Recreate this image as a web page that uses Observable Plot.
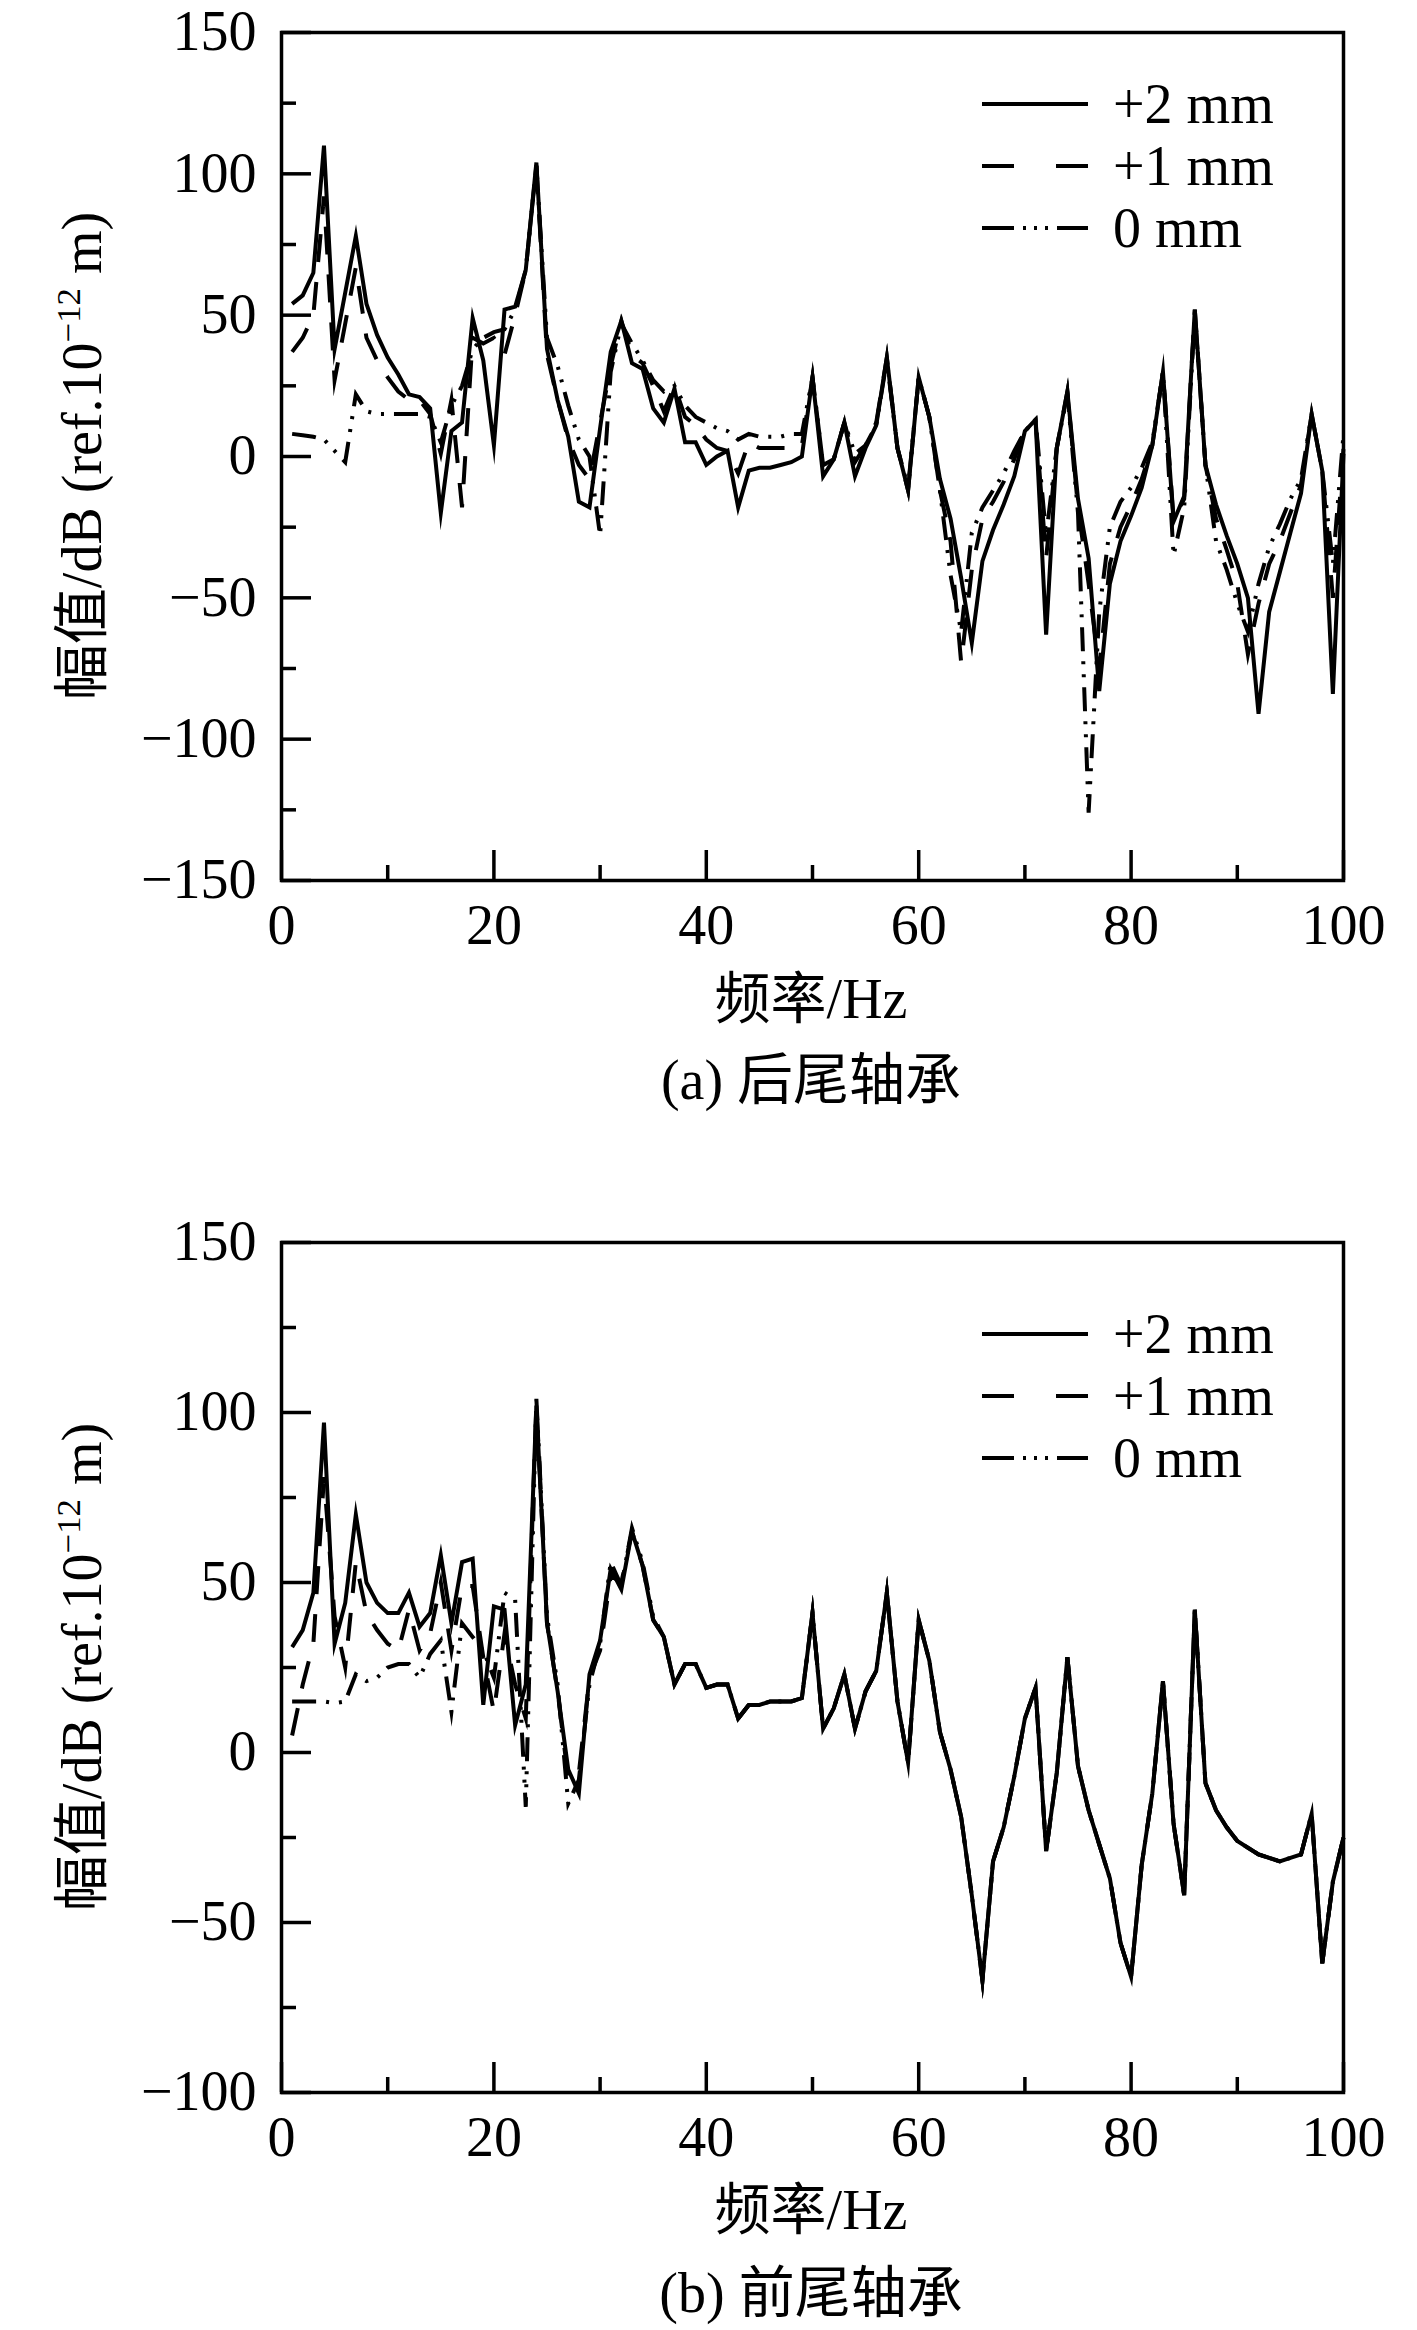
<!DOCTYPE html>
<html><head><meta charset="utf-8">
<script src="https://cdn.jsdelivr.net/npm/d3@7"></script>
<script src="https://cdn.jsdelivr.net/npm/@observablehq/plot@0.6"></script>
<style>
body{margin:0;background:#fff;}
#wrap{position:relative;width:1417px;height:2330px;background:#fff;font-family:"Liberation Serif","Times New Roman","Noto Sans CJK SC",serif;color:#000;overflow:hidden;}
.t{position:absolute;font-size:56px;white-space:nowrap;line-height:1;transform:translate(-50%,-50%);}
.yl{transform:translate(-50%,-50%) rotate(-90deg);}
.lg{position:absolute;font-size:56px;white-space:nowrap;line-height:1;transform:translateY(-50%);}
.pl{position:absolute;left:0;}
sup{font-size:0.62em;vertical-align:0.6em;line-height:0;}
</style></head><body><div id="wrap"></div>
<script>
// frequency (Hz)
const freq = [1,2,3,4,5,6,7,8,9,10,11,12,13,14,15,16,17,18,19,20,21,22,23,24,25,26,27,28,29,30,31,32,33,34,35,36,37,38,39,40,41,42,43,44,45,46,47,48,49,50,51,52,53,54,55,56,57,58,59,60,61,62,63,64,65,66,67,68,69,70,71,72,73,74,75,76,77,78,79,80,81,82,83,84,85,86,87,88,89,90,91,92,93,94,95,96,97,98,99,100];
const seriesNames = ["+2 mm", "+1 mm", "0 mm"];

// (a) 后尾轴承
const a_p2 = [54,57,65,110,38,58,78,54,43,35,29,22,21,17,-20,9,12,49,34,4,52,53,66,104,38,20,7,-16,-18,10,37,48,33,31,17,12,24,5,5,-3,0,2,-18,-5,-4,-4,-3,-2,0,28,-7,-1,12,-7,3,11,35,3,-12,28,14,-8,-22,-43,-66,-37,-26,-17,-7,9,13,-63,3,23,-15,-36,-83,-45,-30,-21,-11,4,30,-23,-14,52,-3,-17,-28,-38,-50,-91,-55,-41,-27,-13,15,-5,-84,1];
const a_p1 = [37,42,50,92,27,47,67,42,34,28,23,20,20,15,1,20,-18,42,40,42,36,50,66,103,36,20,6,-3,-8,12,32,48,36,33,25,16,25,14,11,6,3,2,-6,5,3,3,3,3,4,28,-3,-1,12,-2,4,12,35,3,-12,28,14,-12,-30,-73,-40,-22,-16,-9,-1,10,13,-36,3,23,-18,-45,-75,-38,-25,-17,-8,4,30,-22,-15,52,-3,-22,-33,-45,-70,-52,-38,-30,-20,-10,15,-5,-50,3];
const a_0 = [8,7.5,7,6,2,-2,22,16,15,15,15,15,15,14,5,18,25,38,42,44,45,52,66,103,42,32,18,6,0,-28,30,47,40,34,27,23,25,18,14,12,10,9,6,8,7,7,7,8,8,28,-3,-1,12,1,4,11,34,3,-11,28,14,-12,-42,-62,-27,-18,-12,-6,2,9,13,-28,3,22,-20,-126,-55,-25,-16,-11,-4,5,30,-35,-18,51,-3,-30,-40,-52,-62,-45,-32,-24,-15,-8,15,-5,-38,8];

// (b) 前尾轴承
const b_p2 = [31,36,47,97,32,44,70,50,44,41,41,47,37,41,58,38,56,57,14,43,42,8,20,102,38,18,-5,-12,23,33,54,48,65,55,39,34,20,26,26,19,20,20,10,14,14,15,15,15,16,41,7,13,23,7,18,24,47,15,-3,39,27,6,-5,-19,-42,-67,-32,-22,-7,10,19,-29,-6,28,-4,-17,-27,-37,-56,-66,-33,-12,21,-21,-42,42,-9,-17,-22,-26,-28,-30,-31,-32,-31,-30,-18,-62,-38,-25];
const b_p1 = [5,20,32,81,40,25,56,41,36,32,30,42,30,35,50,30,49,49,28,12,35,20,10,103,38,18,-8,-6,22,30,52,50,65,55,39,34,20,26,26,19,20,20,10,14,14,15,15,15,16,41,7,13,23,7,18,24,47,15,-3,39,27,6,-5,-19,-42,-67,-32,-22,-7,10,19,-29,-6,28,-4,-17,-27,-37,-56,-66,-33,-12,21,-21,-42,42,-9,-17,-22,-26,-28,-30,-31,-32,-31,-30,-18,-62,-38,-25];
const b_0 = [15,15,15,15,14.5,15,23,21,22,25,26,26,22,29,33,12,38,34,30,22,47,45,-16,104,40,20,-15,-8,20,32,56,49,66,56,40,34,20,26,26,19,20,20,10,14,14,15,15,15,16,41,7,13,23,7,18,24,47,15,-3,39,27,6,-5,-19,-42,-67,-32,-22,-7,10,19,-29,-6,28,-4,-17,-27,-37,-56,-66,-33,-12,21,-21,-42,42,-9,-17,-22,-26,-28,-30,-31,-32,-31,-30,-18,-62,-38,-25];

// ticks
const xLabelTicks = [0,20,40,60,80,100];
const xMinorTicks = [10,30,50,70,90];
const yMajorA = [-150,-100,-50,0,50,100,150];
const yMinorA = [-125,-75,-25,25,75,125];
const yMajorB = [-100,-50,0,50,100,150];
const yMinorB = [-75,-25,25,75,125];

const dashStyles = {"+2 mm": null, "+1 mm": "28,20", "0 mm": "24,10,3,10,3,10"};
const fmt = d => d < 0 ? "\u2212" + Math.abs(d) : String(d);

function panel(vals, yDomain, yMajor, yMinor, height, marginTop) {
  const rows = [];
  seriesNames.forEach((s, k) => vals[k].forEach((v, i) => rows.push({f: freq[i], v, s})));
  const lines = seriesNames.slice().reverse().map(s => Plot.line(rows.filter(d => d.s === s), {
    x: "f", y: "v", stroke: "black", strokeWidth: 4,
    strokeDasharray: dashStyles[s], strokeLinejoin: "miter", strokeMiterlimit: 10, strokeLinecap: "butt"
  }));
  return Plot.plot({
    width: 1417, height, marginTop, marginBottom: 60,
    marginLeft: 281, marginRight: 74,
    style: {fontFamily: "'Liberation Serif', 'Times New Roman', serif", fontSize: "56px", color: "black", background: "white", overflow: "visible"},
    x: {domain: [0, 100], label: null},
    y: {domain: yDomain, label: null},
    marks: [
      ...lines,
      Plot.axisX({ticks: xLabelTicks, tickSize: 0, tickPadding: 24, tickFormat: fmt, label: null, fontSize: 56}),
      Plot.axisX({ticks: xLabelTicks, tickSize: -30, tickFormat: () => "", label: null, strokeWidth: 3.5}),
      Plot.axisX({ticks: xMinorTicks, tickSize: -15, tickFormat: () => "", label: null, strokeWidth: 3.5}),
      Plot.axisY({ticks: yMajor, tickSize: 0, tickPadding: 25, tickFormat: fmt, label: null, fontSize: 56}),
      Plot.axisY({ticks: yMajor, tickSize: -30, tickFormat: () => "", label: null, strokeWidth: 3.5}),
      Plot.axisY({ticks: yMinor, tickSize: -15, tickFormat: () => "", label: null, strokeWidth: 3.5}),
      Plot.frame({stroke: "black", strokeWidth: 3.5})
    ]
  });
}

const wrap = document.getElementById("wrap");
function place(el, top) { const d = document.createElement("div"); d.className = "pl"; d.style.top = top + "px"; d.appendChild(el); wrap.appendChild(d); }
function text(html, x, y, cls) { const d = document.createElement("div"); d.className = cls; d.innerHTML = html; d.style.left = x + "px"; d.style.top = y + "px"; wrap.appendChild(d); }
function legend(top) {
  const lx1 = 982, lx2 = 1088, gap = 62;
  const ns = "http://www.w3.org/2000/svg";
  const svg = document.createElementNS(ns, "svg");
  svg.setAttribute("width", 1417); svg.setAttribute("height", 300);
  svg.style.position = "absolute"; svg.style.left = "0px"; svg.style.top = (top - 20) + "px";
  const legDash = {"+2 mm": null, "+1 mm": "32,42", "0 mm": "32,9,3,8,3,8,3,9"};
  seriesNames.forEach((s, k) => {
    const l = document.createElementNS(ns, "line");
    l.setAttribute("x1", lx1); l.setAttribute("x2", lx2);
    l.setAttribute("y1", 20 + k * gap); l.setAttribute("y2", 20 + k * gap);
    l.setAttribute("stroke", "black"); l.setAttribute("stroke-width", 4);
    if (legDash[s]) l.setAttribute("stroke-dasharray", legDash[s]);
    svg.appendChild(l);
    text(s, 1113, top + k * gap, "lg");
  });
  wrap.appendChild(svg);
}

// panel a: frame 32..880
place(panel([a_p2, a_p1, a_0], [-150, 150], yMajorA, yMinorA, 940, 32), 0);
// panel b: frame 1242..2092
place(panel([b_p2, b_p1, b_0], [-100, 150], yMajorB, yMinorB, 952, 42), 1200);

const ylab = "幅值/dB (ref.10<sup>\u221212</sup> m)";
text(ylab, 82, 456, "t yl");
text(ylab, 82, 1667, "t yl");
text("频率/Hz", 811, 999, "t");
text("频率/Hz", 811, 2210, "t");
text("(a) 后尾轴承", 811, 1080, "t");
text("(b) 前尾轴承", 811, 2293, "t");
legend(104);
legend(1334);
</script></body></html>
